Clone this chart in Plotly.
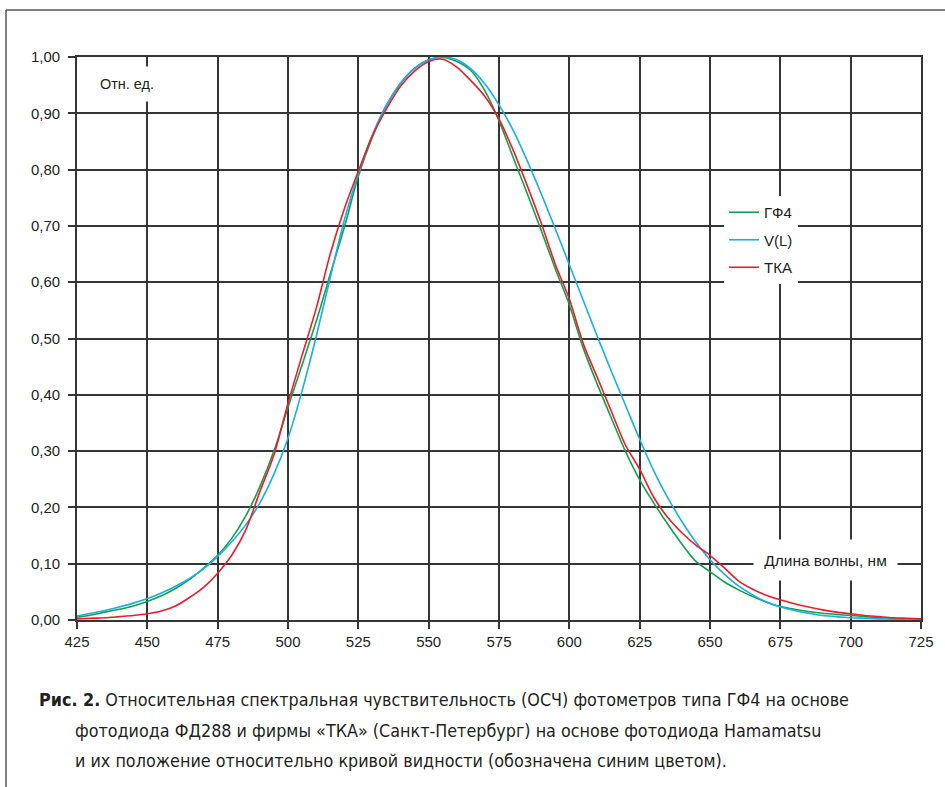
import plotly.graph_objects as go

wavelength = list(range(425, 730, 5))

gf4 = [0.005, 0.009, 0.014, 0.019, 0.025, 0.033, 0.043, 0.056, 0.072, 0.092,
       0.115, 0.145, 0.185, 0.237, 0.300, 0.378, 0.453, 0.530, 0.614, 0.697,
       0.788, 0.858, 0.914, 0.953, 0.980, 0.995, 0.999, 0.992, 0.976, 0.940,
       0.887, 0.822, 0.758, 0.692, 0.624, 0.560, 0.482, 0.418, 0.358, 0.299,
       0.249, 0.208, 0.170, 0.135, 0.104, 0.086, 0.068, 0.054, 0.042, 0.032,
       0.024, 0.019, 0.015, 0.012, 0.010, 0.008, 0.006, 0.004, 0.003, 0.002,
       0.002]

vl = [0.007, 0.012, 0.017, 0.023, 0.030, 0.038, 0.048, 0.060, 0.074, 0.091,
      0.113, 0.139, 0.169, 0.208, 0.259, 0.323, 0.407, 0.503, 0.608, 0.710,
      0.793, 0.862, 0.915, 0.954, 0.980, 0.995, 1.000, 0.995, 0.979, 0.952,
      0.915, 0.870, 0.816, 0.757, 0.695, 0.631, 0.567, 0.503, 0.441, 0.381,
      0.321, 0.265, 0.217, 0.175, 0.138, 0.107, 0.082, 0.061, 0.045, 0.032,
      0.023, 0.017, 0.012, 0.008, 0.006, 0.004, 0.003, 0.002, 0.0015, 0.001,
      0.001]

tka = [0.002, 0.003, 0.004, 0.006, 0.008, 0.011, 0.016, 0.025, 0.040, 0.058,
       0.083, 0.115, 0.160, 0.228, 0.293, 0.385, 0.470, 0.553, 0.650, 0.730,
       0.797, 0.860, 0.908, 0.948, 0.975, 0.992, 0.996, 0.982, 0.958, 0.930,
       0.890, 0.835, 0.772, 0.705, 0.632, 0.570, 0.490, 0.430, 0.370, 0.310,
       0.268, 0.218, 0.182, 0.155, 0.133, 0.115, 0.093, 0.070, 0.055, 0.044,
       0.036, 0.029, 0.023, 0.018, 0.014, 0.011, 0.008, 0.006, 0.004, 0.003,
       0.002]

series_names = ["ГФ4", "V(L)", "ТКА"]
series_values = [gf4, vl, tka]
series_colors = ["#12a04c", "#18aee8", "#ee1c2a"]

y_label = "Отн. ед."
x_label = "Длина волны, нм"
caption_lines = [
    "<b>Рис. 2.</b> Относительная спектральная чувствительность (ОСЧ) фотометров типа ГФ4 на основе",
    "фотодиода ФД288 и фирмы «ТКА» (Санкт-Петербург) на основе фотодиода Hamamatsu",
    "и их положение относительно кривой видности (обозначена синим цветом).",
]

fig = go.Figure()
for name, vals, col in zip(series_names, series_values, series_colors):
    fig.add_trace(go.Scatter(
        x=wavelength, y=vals, name=name, mode="lines",
        line=dict(color=col, width=1.6, shape="spline", smoothing=0.8),
        legendgroup=name,
    ))

W, H = 945, 787
L, R, T, B = 77, 24, 57, 167
pw, ph = W - L - R, H - T - B

def px(xp):
    return (xp - L) / pw

def py(yp):
    return (H - B - yp) / ph

grid_col = "#353535"
fig.update_xaxes(
    range=[425, 725], dtick=25, tick0=425, showgrid=True, gridcolor=grid_col, gridwidth=1.6,
    showline=True, linecolor=grid_col, linewidth=2, mirror=True,
    ticks="outside", ticklen=7, tickcolor=grid_col, tickwidth=1.6,
    zeroline=False, tickfont=dict(size=15, color="#231f20"),
)
fig.update_yaxes(
    range=[0, 1], dtick=0.1, tick0=0, tickformat=".2f", showgrid=True, gridcolor=grid_col,
    gridwidth=1.6, showline=True, linecolor=grid_col, linewidth=1.6, mirror=True,
    ticks="outside", ticklen=7, tickcolor=grid_col, tickwidth=1.6, ticklabelstandoff=5,
    zeroline=False, tickfont=dict(size=15, color="#231f20"),
)

annotations = [
    dict(text=y_label, xref="paper", yref="paper", x=px(127), y=py(84),
         xanchor="center", yanchor="middle", showarrow=False, bgcolor="white",
         width=66, height=34, borderpad=0, font=dict(size=14.5, color="#231f20")),
    dict(text=x_label, xref="paper", yref="paper", x=px(825), y=py(560),
         xanchor="center", yanchor="middle", showarrow=False, bgcolor="white",
         width=143, height=40, borderpad=0, font=dict(size=15.5, color="#231f20")),
]
cap_font = dict(family="Liberation Sans Narrow, Arial Narrow, DejaVu Sans Condensed, sans-serif",
                size=17.8, color="#231f20")
cap_pos = [(37, 699), (73, 730), (73, 761)]
for line, (cx, cy) in zip(caption_lines, cap_pos):
    annotations.append(dict(text=line, xref="paper", yref="paper", x=px(cx), y=py(cy),
                            xanchor="left", yanchor="middle", showarrow=False, font=cap_font))

shapes = [
    dict(type="line", xref="paper", yref="paper", x0=px(6), x1=px(6), y0=py(10), y1=py(787),
         line=dict(color="#555555", width=1.5)),
    dict(type="line", xref="paper", yref="paper", x0=px(6), x1=px(945), y0=py(10), y1=py(10),
         line=dict(color="#555555", width=1.5)),
]

fig.update_layout(
    width=W, height=H, margin=dict(l=L, r=R, t=T, b=B),
    paper_bgcolor="white", plot_bgcolor="white", separators=", ",
    font=dict(family="Liberation Sans, Arial, sans-serif", size=15, color="#231f20"),
    showlegend=True,
    legend=dict(x=px(724), y=py(196), xanchor="left", yanchor="top", bgcolor="white",
                borderwidth=0, font=dict(size=15, color="#231f20"), itemwidth=30,
                traceorder="grouped", tracegroupgap=5),
    annotations=annotations, shapes=shapes,
)

fig.write_html("out.html", config={"displayModeBar": False},
               post_script="document.body.style.margin='0px';document.body.style.overflow='hidden';")
